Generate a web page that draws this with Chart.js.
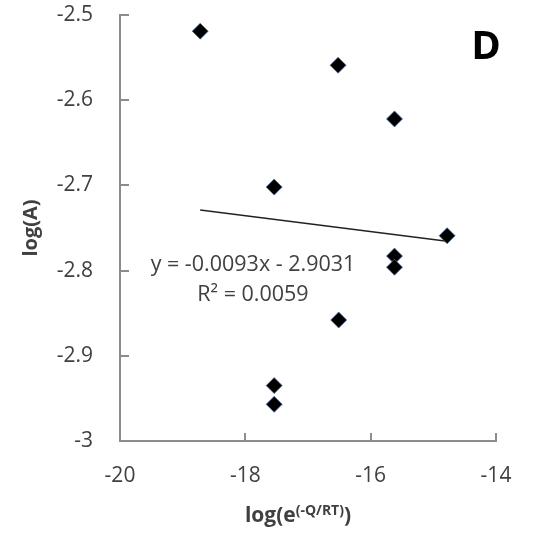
<!DOCTYPE html>
<html lang="en">
<head>
  <meta charset="UTF-8" />
  <title>log(A) vs log(e^(-Q/RT)) - D</title>
  <script src="https://cdn.jsdelivr.net/npm/chart.js"></script>
  <style>
    body { margin: 0; background: #fff; }
    .chart-box { width: 548px; height: 539px; position: relative; }
  </style>
</head>
<body>
  <div class="chart-box"><canvas id="grafica"></canvas></div>
  <script>
    // data
    const xValues = [-18.72, -16.52, -15.62, -17.54, -14.78, -15.62, -15.62, -16.51, -17.54, -17.54];
    const yValues = [-2.519, -2.559, -2.622, -2.702, -2.759, -2.783, -2.796, -2.858, -2.935, -2.957];
    const xTicks = [-20, -18, -16, -14];
    const yTicks = [-3, -2.9, -2.8, -2.7, -2.6, -2.5];
    // trendline from the printed equation
    const trendSlope = [-0.0093];
    const trendIntercept = [-2.9031];
    const eqLines = ['y = -0.0093x - 2.9031', 'R\u00B2 = 0.0059'];
    const panelLabel = 'D';

    const axisColor = '#8c8c8c';
    const textColor = '#404040';
    const fontFam = "'Open Sans', sans-serif";

    const puntos = xValues.map((x, i) => ({ x: x, y: yValues[i] }));
    const xMin = Math.min(...xValues), xMax = Math.max(...xValues);
    const tendencia = [xMin, xMax].map(x => ({ x: x, y: trendSlope[0] * x + trendIntercept[0] }));

    // tick marks pointing into the plot, plus the extra texts
    const extras = {
      id: 'extras',
      afterDraw(chart) {
        const ctx = chart.ctx;
        const sx = chart.scales.x, sy = chart.scales.y;
        const area = chart.chartArea;
        ctx.save();
        ctx.strokeStyle = axisColor;
        ctx.lineWidth = 2;
        yTicks.forEach(v => {
          const py = Math.round(sy.getPixelForValue(v));
          ctx.beginPath(); ctx.moveTo(area.left, py); ctx.lineTo(area.left + 9, py); ctx.stroke();
        });
        xTicks.forEach(v => {
          const px = Math.round(sx.getPixelForValue(v));
          ctx.beginPath(); ctx.moveTo(px, area.bottom); ctx.lineTo(px, area.bottom - 8); ctx.stroke();
        });

        // equation
        ctx.fillStyle = textColor;
        ctx.font = '21.5px ' + fontFam;
        ctx.textAlign = 'center';
        ctx.textBaseline = 'middle';
        ctx.fillText(eqLines[0], 253, 265);
        ctx.fillText(eqLines[1], 253, 295);

        // panel letter
        ctx.fillStyle = '#000';
        ctx.font = 'bold 40px ' + fontFam;
        ctx.fillText(panelLabel, 486, 48);

        // x title with superscript
        ctx.fillStyle = textColor;
        ctx.textAlign = 'left';
        ctx.textBaseline = 'alphabetic';
        const big = 'bold 21px ' + fontFam, small = 'bold 14px ' + fontFam;
        const parts = [['log(e', big, 0], ['(-Q/RT)', small, -7], [')', big, 0]];
        let total = 0;
        parts.forEach(p => { ctx.font = p[1]; total += ctx.measureText(p[0]).width; });
        let cx = 298 - total / 2;
        parts.forEach(p => {
          ctx.font = p[1];
          ctx.fillText(p[0], cx, 522 + p[2]);
          cx += ctx.measureText(p[0]).width;
        });
        ctx.restore();
      }
    };

    new Chart(document.getElementById('grafica'), {
      type: 'scatter',
      data: {
        datasets: [
          {
            label: 'datos',
            data: puntos,
            pointStyle: 'rectRot',
            pointRadius: 8,
            backgroundColor: '#000',
            borderColor: 'rgba(70,110,170,0.7)',
            borderWidth: 1
          },
          {
            type: 'line',
            label: 'tendencia',
            data: tendencia,
            borderColor: '#222',
            borderWidth: 1.5,
            pointRadius: 0,
            fill: false
          }
        ]
      },
      options: {
        responsive: true,
        maintainAspectRatio: false,
        animation: false,
        layout: { padding: { left: 0, right: 52, top: 15, bottom: 0 } },
        plugins: { legend: { display: false }, tooltip: { enabled: false } },
        scales: {
          x: {
            type: 'linear',
            min: -20, max: -14,
            afterFit(scale) { scale.height = 98; scale.paddingLeft = 0; scale.paddingRight = 0; },
            afterBuildTicks(scale) { scale.ticks = xTicks.map(v => ({ value: v })); },
            border: { display: true, color: axisColor, width: 2 },
            grid: { drawOnChartArea: false, drawTicks: false },
            ticks: { color: textColor, font: { family: fontFam, size: 21 }, padding: 22, maxRotation: 0 }
          },
          y: {
            min: -3, max: -2.5,
            afterFit(scale) { scale.width = 120; scale.paddingTop = 0; scale.paddingBottom = 0; },
            afterBuildTicks(scale) { scale.ticks = yTicks.map(v => ({ value: v })); },
            border: { display: true, color: axisColor, width: 2 },
            grid: { drawOnChartArea: false, drawTicks: false },
            ticks: { color: textColor, font: { family: fontFam, size: 21 }, padding: 27, callback: v => String(v) },
            title: { display: true, text: 'log(A)', color: textColor, font: { family: fontFam, size: 20, weight: 'bold' }, padding: { top: 19, bottom: 0 } }
          }
        }
      },
      plugins: [extras]
    });
  </script>
</body>
</html>
